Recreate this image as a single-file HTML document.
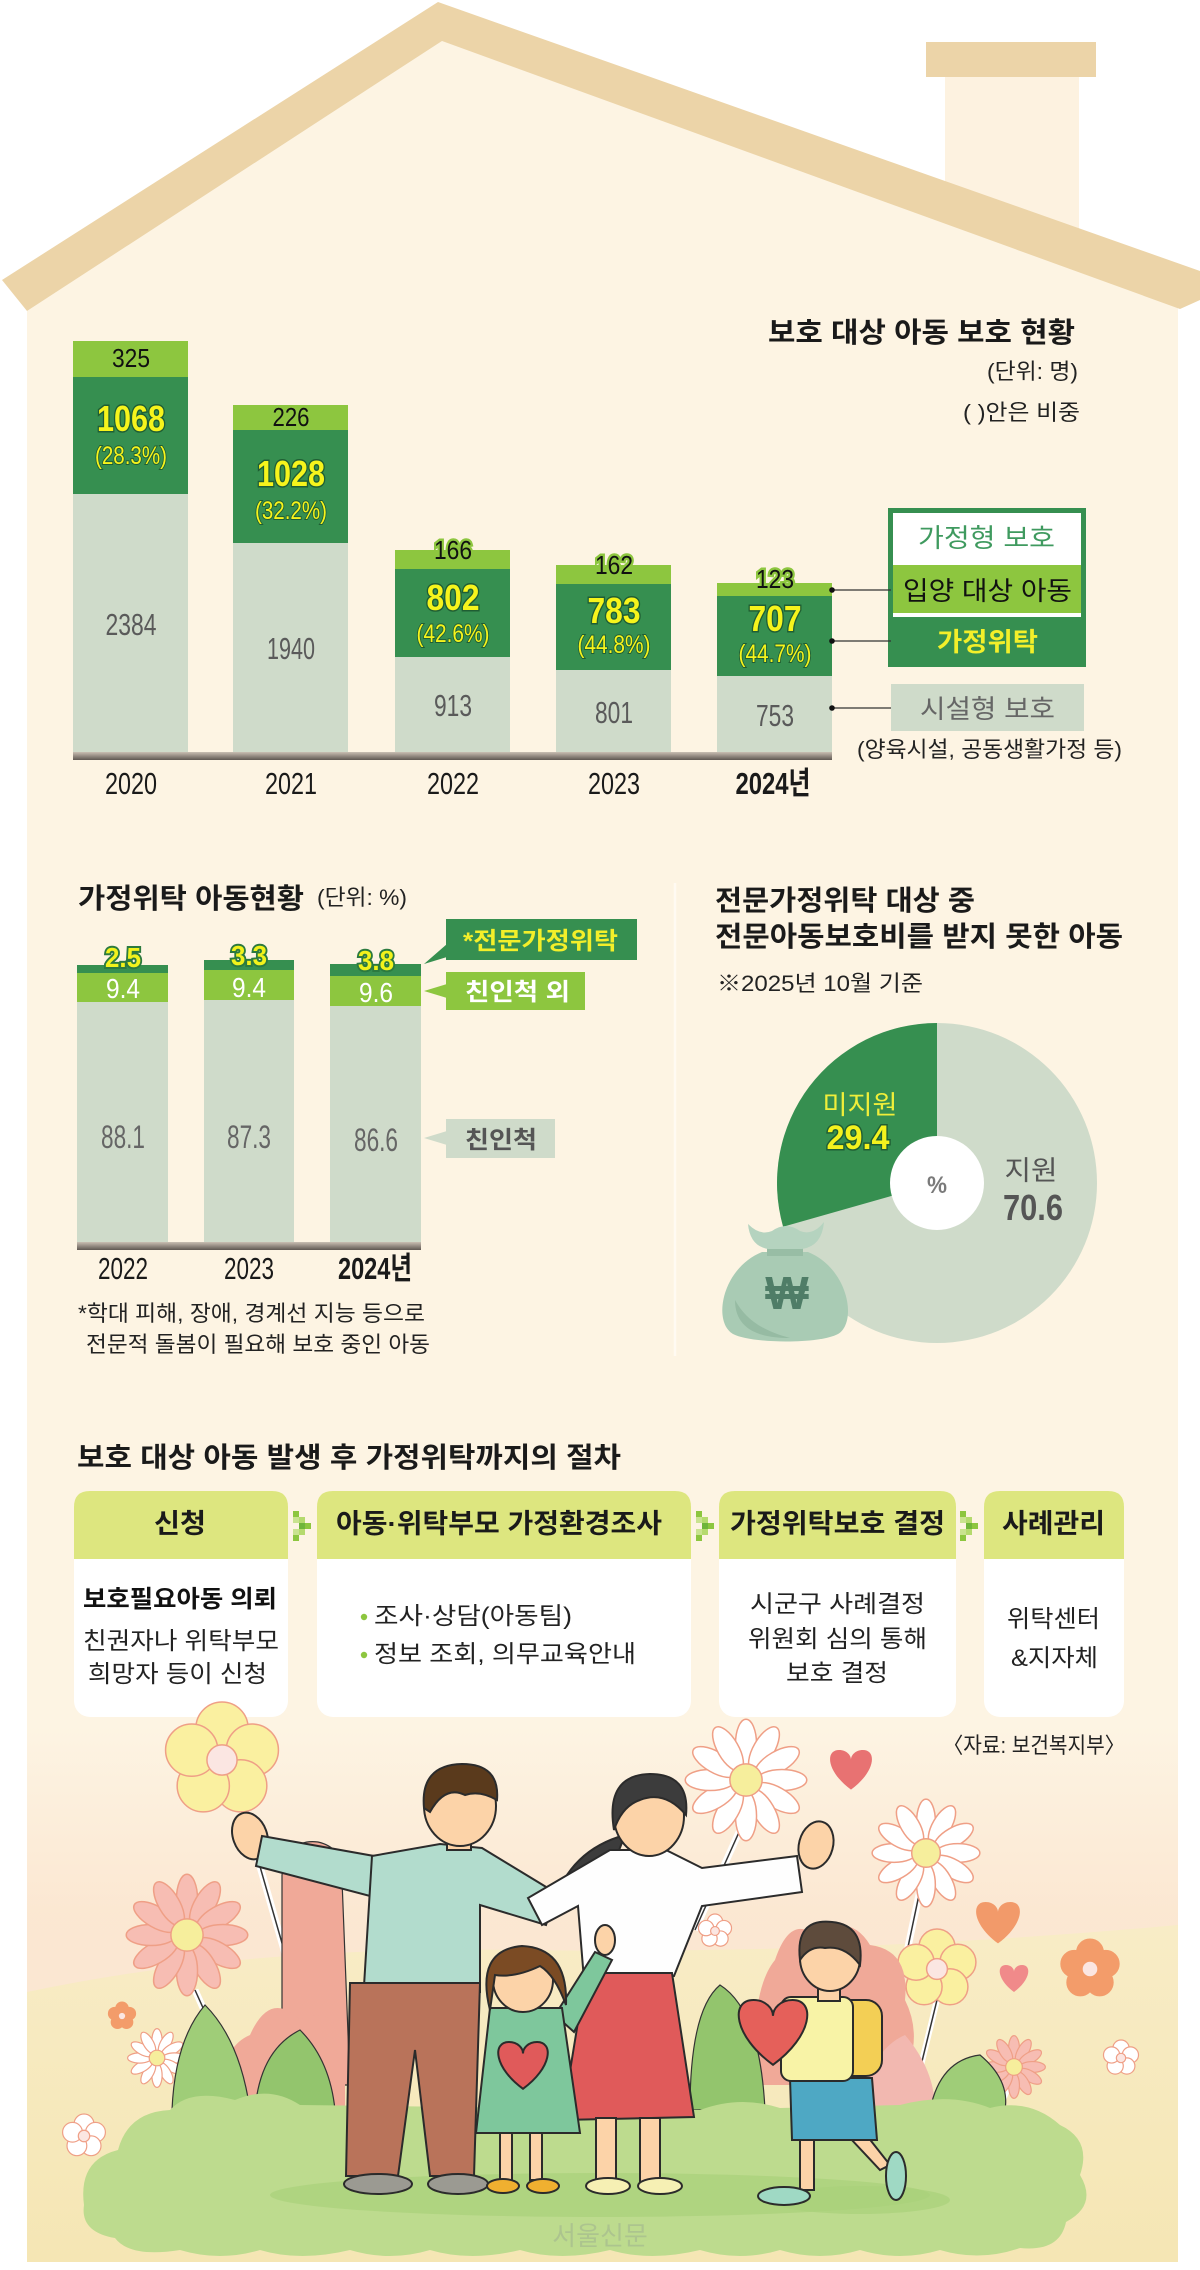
<!DOCTYPE html>
<html><head><meta charset="utf-8"><style>html,body{margin:0;padding:0;background:#fff}svg{display:block}</style></head><body>
<svg width="1200" height="2270" viewBox="0 0 1200 2270" xmlns="http://www.w3.org/2000/svg" font-family="'Liberation Sans','Noto Sans CJK KR',sans-serif">
<defs>
<linearGradient id="ax" x1="0" y1="0" x2="0" y2="1"><stop offset="0" stop-color="#c9beb2"/><stop offset="1" stop-color="#5f5852"/></linearGradient>
<linearGradient id="bg" x1="0" y1="0" x2="0" y2="1"><stop offset="0" stop-color="#fdf4e3"/><stop offset="0.35" stop-color="#fbe6d0"/><stop offset="1" stop-color="#fbe3cf"/></linearGradient>
<linearGradient id="hill" x1="0" y1="0" x2="0" y2="1"><stop offset="0" stop-color="#f8ecc6"/><stop offset="1" stop-color="#f5e6b4"/></linearGradient>
<g id="f5"><circle cx="0" cy="-0.55" r="0.45" vector-effect="non-scaling-stroke"/><circle cx="0.523" cy="-0.17" r="0.45" vector-effect="non-scaling-stroke"/><circle cx="0.323" cy="0.445" r="0.45" vector-effect="non-scaling-stroke"/><circle cx="-0.323" cy="0.445" r="0.45" vector-effect="non-scaling-stroke"/><circle cx="-0.523" cy="-0.17" r="0.45" vector-effect="non-scaling-stroke"/><circle r="0.26" fill="#fbe6e2" vector-effect="non-scaling-stroke"/></g>
<g id="dz"><ellipse cy="-0.58" rx="0.17" ry="0.4" vector-effect="non-scaling-stroke"/><ellipse cy="-0.58" rx="0.17" ry="0.4" transform="rotate(30)" vector-effect="non-scaling-stroke"/><ellipse cy="-0.58" rx="0.17" ry="0.4" transform="rotate(60)" vector-effect="non-scaling-stroke"/><ellipse cy="-0.58" rx="0.17" ry="0.4" transform="rotate(90)" vector-effect="non-scaling-stroke"/><ellipse cy="-0.58" rx="0.17" ry="0.4" transform="rotate(120)" vector-effect="non-scaling-stroke"/><ellipse cy="-0.58" rx="0.17" ry="0.4" transform="rotate(150)" vector-effect="non-scaling-stroke"/><ellipse cy="-0.58" rx="0.17" ry="0.4" transform="rotate(180)" vector-effect="non-scaling-stroke"/><ellipse cy="-0.58" rx="0.17" ry="0.4" transform="rotate(210)" vector-effect="non-scaling-stroke"/><ellipse cy="-0.58" rx="0.17" ry="0.4" transform="rotate(240)" vector-effect="non-scaling-stroke"/><ellipse cy="-0.58" rx="0.17" ry="0.4" transform="rotate(270)" vector-effect="non-scaling-stroke"/><ellipse cy="-0.58" rx="0.17" ry="0.4" transform="rotate(300)" vector-effect="non-scaling-stroke"/><ellipse cy="-0.58" rx="0.17" ry="0.4" transform="rotate(330)" vector-effect="non-scaling-stroke"/><circle r="0.26" fill="#f6ee9c" vector-effect="non-scaling-stroke"/></g>
<path id="hrt" vector-effect="non-scaling-stroke" d="M0 0.4 C -0.55 0 -0.6 -0.5 -0.27 -0.5 C -0.1 -0.5 0 -0.38 0 -0.28 C 0 -0.38 0.1 -0.5 0.27 -0.5 C 0.6 -0.5 0.55 0 0 0.4 Z"/>
</defs>

<!-- house -->
<rect x="945" y="70" width="134" height="230" fill="#fdf2e0"/>
<rect x="926" y="42" width="170" height="35" fill="#ecd4a8"/>
<polygon points="27,311 442,41 1178,307 1178,2262 27,2262" fill="#fdf4e3"/>
<polygon points="2,280 438,2 1200,271 1200,300 1180,309 442,41 27,311" fill="#ecd4a8"/>

<!-- chart 1 title -->
<text x="768" y="342" font-size="28" font-weight="bold" fill="#1a1a1a" textLength="307" lengthAdjust="spacingAndGlyphs">보호 대상 아동 보호 현황</text>
<text x="987" y="379" font-size="22" fill="#222" textLength="91" lengthAdjust="spacingAndGlyphs">(단위: 명)</text>
<text x="963" y="420" font-size="22" fill="#222" textLength="117" lengthAdjust="spacingAndGlyphs">(  )안은 비중</text>

<!-- chart 1 bars -->
<g>
<rect x="73" y="341" width="115" height="36" fill="#8dc63f"/><rect x="73" y="377" width="115" height="117" fill="#368f50"/><rect x="73" y="494" width="115" height="263" fill="#cfdbca"/>
<rect x="233" y="405" width="115" height="25" fill="#8dc63f"/><rect x="233" y="430" width="115" height="113" fill="#368f50"/><rect x="233" y="543" width="115" height="214" fill="#cfdbca"/>
<rect x="395" y="550" width="115" height="19" fill="#8dc63f"/><rect x="395" y="569" width="115" height="88" fill="#368f50"/><rect x="395" y="657" width="115" height="100" fill="#cfdbca"/>
<rect x="556" y="565" width="115" height="19" fill="#8dc63f"/><rect x="556" y="584" width="115" height="86" fill="#368f50"/><rect x="556" y="670" width="115" height="87" fill="#cfdbca"/>
<rect x="717" y="583" width="115" height="13" fill="#8dc63f"/><rect x="717" y="596" width="115" height="80" fill="#368f50"/><rect x="717" y="676" width="115" height="81" fill="#cfdbca"/>
<rect x="73" y="752" width="759" height="8" fill="url(#ax)"/>
</g>
<g text-anchor="middle">
<text x="131" y="367" font-size="26" fill="#111" textLength="38" lengthAdjust="spacingAndGlyphs">325</text>
<text x="131" y="431" font-size="36" font-weight="bold" fill="#f6f41c" stroke="#1f5e33" stroke-width="3" paint-order="stroke" textLength="68" lengthAdjust="spacingAndGlyphs">1068</text>
<text x="131" y="464" font-size="25" fill="#f6f41c" stroke="#1f5e33" stroke-width="2" paint-order="stroke" textLength="72" lengthAdjust="spacingAndGlyphs">(28.3%)</text>
<text x="131" y="635" font-size="31" fill="#5a5a5a" textLength="51" lengthAdjust="spacingAndGlyphs">2384</text>

<text x="291" y="426" font-size="26" fill="#111" stroke="#8dc63f" stroke-width="5" paint-order="stroke" textLength="37" lengthAdjust="spacingAndGlyphs">226</text>
<text x="291" y="486" font-size="36" font-weight="bold" fill="#f6f41c" stroke="#1f5e33" stroke-width="3" paint-order="stroke" textLength="68" lengthAdjust="spacingAndGlyphs">1028</text>
<text x="291" y="519" font-size="25" fill="#f6f41c" stroke="#1f5e33" stroke-width="2" paint-order="stroke" textLength="72" lengthAdjust="spacingAndGlyphs">(32.2%)</text>
<text x="291" y="659" font-size="31" fill="#5a5a5a" textLength="48" lengthAdjust="spacingAndGlyphs">1940</text>

<text x="453" y="559" font-size="26" fill="#111" stroke="#8dc63f" stroke-width="5" paint-order="stroke" textLength="38" lengthAdjust="spacingAndGlyphs">166</text>
<text x="453" y="610" font-size="36" font-weight="bold" fill="#f6f41c" stroke="#1f5e33" stroke-width="3" paint-order="stroke" textLength="53" lengthAdjust="spacingAndGlyphs">802</text>
<text x="453" y="642" font-size="25" fill="#f6f41c" stroke="#1f5e33" stroke-width="2" paint-order="stroke" textLength="73" lengthAdjust="spacingAndGlyphs">(42.6%)</text>
<text x="453" y="716" font-size="31" fill="#5a5a5a" textLength="38" lengthAdjust="spacingAndGlyphs">913</text>

<text x="614" y="574" font-size="26" fill="#111" stroke="#8dc63f" stroke-width="5" paint-order="stroke" textLength="38" lengthAdjust="spacingAndGlyphs">162</text>
<text x="614" y="623" font-size="36" font-weight="bold" fill="#f6f41c" stroke="#1f5e33" stroke-width="3" paint-order="stroke" textLength="53" lengthAdjust="spacingAndGlyphs">783</text>
<text x="614" y="653" font-size="25" fill="#f6f41c" stroke="#1f5e33" stroke-width="2" paint-order="stroke" textLength="73" lengthAdjust="spacingAndGlyphs">(44.8%)</text>
<text x="614" y="723" font-size="31" fill="#5a5a5a" textLength="38" lengthAdjust="spacingAndGlyphs">801</text>

<text x="775" y="588" font-size="26" fill="#111" stroke="#8dc63f" stroke-width="5" paint-order="stroke" textLength="38" lengthAdjust="spacingAndGlyphs">123</text>
<text x="775" y="631" font-size="36" font-weight="bold" fill="#f6f41c" stroke="#1f5e33" stroke-width="3" paint-order="stroke" textLength="53" lengthAdjust="spacingAndGlyphs">707</text>
<text x="775" y="662" font-size="25" fill="#f6f41c" stroke="#1f5e33" stroke-width="2" paint-order="stroke" textLength="73" lengthAdjust="spacingAndGlyphs">(44.7%)</text>
<text x="775" y="726" font-size="31" fill="#5a5a5a" textLength="38" lengthAdjust="spacingAndGlyphs">753</text>

<text x="131" y="794" font-size="31" fill="#1a1a1a" textLength="52" lengthAdjust="spacingAndGlyphs">2020</text>
<text x="291" y="794" font-size="31" fill="#1a1a1a" textLength="52" lengthAdjust="spacingAndGlyphs">2021</text>
<text x="453" y="794" font-size="31" fill="#1a1a1a" textLength="52" lengthAdjust="spacingAndGlyphs">2022</text>
<text x="614" y="794" font-size="31" fill="#1a1a1a" textLength="52" lengthAdjust="spacingAndGlyphs">2023</text>
<text x="773" y="794" font-size="31" font-weight="bold" fill="#1a1a1a" textLength="75" lengthAdjust="spacingAndGlyphs">2024년</text>
</g>

<!-- chart 1 legend -->
<rect x="888" y="508" width="198" height="159" fill="#368f50"/>
<rect x="893" y="513" width="188" height="52" fill="#ffffff"/>
<rect x="893" y="565" width="188" height="48" fill="#8dc63f"/>
<rect x="893" y="613" width="188" height="4" fill="#ffffff"/>
<text x="918" y="547" font-size="26" fill="#3f9a5f" textLength="137" lengthAdjust="spacingAndGlyphs">가정형 보호</text>
<text x="903" y="600" font-size="26" fill="#111" textLength="169" lengthAdjust="spacingAndGlyphs">입양 대상 아동</text>
<text x="937" y="651" font-size="26" font-weight="bold" fill="#f3ef2a" textLength="101" lengthAdjust="spacingAndGlyphs">가정위탁</text>
<rect x="891" y="684" width="193" height="47" fill="#cfdbca"/>
<text x="920" y="718" font-size="26" fill="#666" textLength="135" lengthAdjust="spacingAndGlyphs">시설형 보호</text>
<text x="857" y="757" font-size="22" fill="#222" textLength="265" lengthAdjust="spacingAndGlyphs">(양육시설, 공동생활가정 등)</text>
<g stroke="#333" stroke-width="1.3"><line x1="832" y1="590" x2="891" y2="590"/><line x1="832" y1="641" x2="891" y2="641"/><line x1="832" y1="708" x2="891" y2="708"/></g>
<g fill="#111"><circle cx="832" cy="590" r="2.8"/><circle cx="832" cy="641" r="2.8"/><circle cx="832" cy="708" r="2.8"/></g>

<!-- chart 2 -->
<text x="78" y="908" font-size="28" font-weight="bold" fill="#1a1a1a" textLength="226" lengthAdjust="spacingAndGlyphs">가정위탁 아동현황</text>
<text x="317" y="905" font-size="22" fill="#222" textLength="90" lengthAdjust="spacingAndGlyphs">(단위: %)</text>
<rect x="77" y="965" width="91" height="8" fill="#368f50"/><rect x="77" y="973" width="91" height="29" fill="#8dc63f"/><rect x="77" y="1002" width="91" height="245" fill="#cfdbca"/>
<rect x="204" y="960" width="90" height="10" fill="#368f50"/><rect x="204" y="970" width="90" height="30" fill="#8dc63f"/><rect x="204" y="1000" width="90" height="247" fill="#cfdbca"/>
<rect x="330" y="964" width="91" height="12" fill="#368f50"/><rect x="330" y="976" width="91" height="30" fill="#8dc63f"/><rect x="330" y="1006" width="91" height="241" fill="#cfdbca"/>
<rect x="77" y="1242" width="344" height="8" fill="url(#ax)"/>
<g text-anchor="middle">
<text x="123" y="967" font-size="28" font-weight="bold" fill="#f2f21c" stroke="#2c7a3f" stroke-width="4" paint-order="stroke" textLength="36" lengthAdjust="spacingAndGlyphs">2.5</text>
<text x="249" y="965" font-size="28" font-weight="bold" fill="#f2f21c" stroke="#2c7a3f" stroke-width="4" paint-order="stroke" textLength="36" lengthAdjust="spacingAndGlyphs">3.3</text>
<text x="376" y="970" font-size="28" font-weight="bold" fill="#f2f21c" stroke="#2c7a3f" stroke-width="4" paint-order="stroke" textLength="36" lengthAdjust="spacingAndGlyphs">3.8</text>
<text x="123" y="998" font-size="28" fill="#fff" textLength="34" lengthAdjust="spacingAndGlyphs">9.4</text>
<text x="249" y="997" font-size="28" fill="#fff" textLength="34" lengthAdjust="spacingAndGlyphs">9.4</text>
<text x="376" y="1002" font-size="28" fill="#fff" textLength="34" lengthAdjust="spacingAndGlyphs">9.6</text>
<text x="123" y="1148" font-size="32" fill="#666" textLength="44" lengthAdjust="spacingAndGlyphs">88.1</text>
<text x="249" y="1148" font-size="32" fill="#666" textLength="44" lengthAdjust="spacingAndGlyphs">87.3</text>
<text x="376" y="1151" font-size="32" fill="#666" textLength="44" lengthAdjust="spacingAndGlyphs">86.6</text>
<text x="123" y="1279" font-size="31" fill="#1a1a1a" textLength="50" lengthAdjust="spacingAndGlyphs">2022</text>
<text x="249" y="1279" font-size="31" fill="#1a1a1a" textLength="50" lengthAdjust="spacingAndGlyphs">2023</text>
<text x="375" y="1279" font-size="31" font-weight="bold" fill="#1a1a1a" textLength="74" lengthAdjust="spacingAndGlyphs">2024년</text>
</g>
<polygon points="424,964 447,944 447,957" fill="#368f50"/>
<rect x="446" y="919" width="191" height="41" fill="#368f50"/>
<text x="463" y="949" font-size="24" font-weight="bold" fill="#f3ef2a" textLength="155" lengthAdjust="spacingAndGlyphs">*전문가정위탁</text>
<polygon points="424,991 447,984 447,998" fill="#8dc63f"/>
<rect x="446" y="972" width="139" height="38" fill="#8dc63f"/>
<text x="465" y="1000" font-size="24" font-weight="bold" fill="#fff" textLength="105" lengthAdjust="spacingAndGlyphs">친인척 외</text>
<polygon points="424,1138 447,1131 447,1145" fill="#cfdbca"/>
<rect x="446" y="1119" width="109" height="39" fill="#cfdbca"/>
<text x="465" y="1148" font-size="24" font-weight="bold" fill="#555" textLength="72" lengthAdjust="spacingAndGlyphs">친인척</text>
<text x="78" y="1321" font-size="22" fill="#222" textLength="347" lengthAdjust="spacingAndGlyphs">*학대 피해, 장애, 경계선 지능 등으로</text>
<text x="86" y="1352" font-size="22" fill="#222" textLength="344" lengthAdjust="spacingAndGlyphs">전문적 돌봄이 필요해 보호 중인 아동</text>

<line x1="675" y1="883" x2="675" y2="1356" stroke="#fffaf2" stroke-width="2.5"/>

<!-- pie -->
<text x="715" y="910" font-size="28" font-weight="bold" fill="#1a1a1a" textLength="260" lengthAdjust="spacingAndGlyphs">전문가정위탁 대상 중</text>
<text x="715" y="946" font-size="28" font-weight="bold" fill="#1a1a1a" textLength="408" lengthAdjust="spacingAndGlyphs">전문아동보호비를 받지 못한 아동</text>
<text x="717" y="991" font-size="22" fill="#222" textLength="206" lengthAdjust="spacingAndGlyphs">※2025년 10월 기준</text>
<circle cx="937" cy="1183" r="160" fill="#cfdbca"/>
<path d="M937 1183 L937 1023 A160 160 0 0 0 783.1 1226.7 Z" fill="#368f50"/>
<circle cx="937" cy="1183" r="47" fill="#fff"/>
<text x="860" y="1114" text-anchor="middle" font-size="26" fill="#f0ee3a" textLength="75" lengthAdjust="spacingAndGlyphs">미지원</text>
<text x="858" y="1149" text-anchor="middle" font-size="34" font-weight="bold" fill="#f4f21e" stroke="#1f5e33" stroke-width="3" paint-order="stroke" textLength="63" lengthAdjust="spacingAndGlyphs">29.4</text>
<text x="937" y="1193" text-anchor="middle" font-size="24" font-weight="bold" fill="#7a7a7a" textLength="20" lengthAdjust="spacingAndGlyphs">%</text>
<text x="1031" y="1180" text-anchor="middle" font-size="27" fill="#555" textLength="53" lengthAdjust="spacingAndGlyphs">지원</text>
<text x="1033" y="1220" text-anchor="middle" font-size="36" font-weight="bold" fill="#555" textLength="60" lengthAdjust="spacingAndGlyphs">70.6</text>
<!-- money bag -->
<path d="M762 1252 C722 1268 712 1322 733 1334 C752 1344 820 1344 838 1334 C858 1322 848 1268 808 1252 Z" fill="#a9cbb4"/>
<path d="M735 1300 C735 1330 760 1338 790 1338 C760 1330 745 1318 735 1300 Z" fill="#96bba3"/>
<rect x="767" y="1243" width="36" height="13" fill="#98bda5"/>
<path d="M748 1224 Q760 1236 772 1231 Q786 1221 800 1231 Q813 1236 824 1222 Q822 1246 802 1249 L768 1249 Q750 1246 748 1224 Z" fill="#b5d3bf"/>
<text x="787" y="1309" text-anchor="middle" font-size="46" font-weight="bold" fill="#4f7d67">₩</text>

<!-- process -->
<text x="77" y="1467" font-size="28" font-weight="bold" fill="#1a1a1a" textLength="544" lengthAdjust="spacingAndGlyphs">보호 대상 아동 발생 후 가정위탁까지의 절차</text>
<g>
<rect x="74" y="1491" width="214" height="226" rx="16" fill="#fff"/><path d="M74 1559 L74 1507 Q74 1491 90 1491 L272 1491 Q288 1491 288 1507 L288 1559 Z" fill="#dde67f"/>
<rect x="317" y="1491" width="374" height="226" rx="16" fill="#fff"/><path d="M317 1559 L317 1507 Q317 1491 333 1491 L675 1491 Q691 1491 691 1507 L691 1559 Z" fill="#dde67f"/>
<rect x="719" y="1491" width="237" height="226" rx="16" fill="#fff"/><path d="M719 1559 L719 1507 Q719 1491 735 1491 L940 1491 Q956 1491 956 1507 L956 1559 Z" fill="#dde67f"/>
<rect x="984" y="1491" width="140" height="226" rx="16" fill="#fff"/><path d="M984 1559 L984 1507 Q984 1491 1000 1491 L1108 1491 Q1124 1491 1124 1507 L1124 1559 Z" fill="#dde67f"/>
</g>
<g id="chev"><rect x="293" y="1511" width="6" height="6" fill="#8dc63f"/><rect x="299" y="1517" width="6" height="6" fill="#b5da6e"/><rect x="305" y="1523" width="6" height="6" fill="#8dc63f"/><rect x="299" y="1529" width="6" height="6" fill="#b5da6e"/><rect x="293" y="1535" width="6" height="6" fill="#8dc63f"/><rect x="293" y="1517" width="6" height="6" fill="#c9e38f"/><rect x="299" y="1523" width="6" height="6" fill="#6fb53a"/><rect x="293" y="1529" width="6" height="6" fill="#c9e38f"/></g>
<use href="#chev" transform="translate(403,0)"/>
<use href="#chev" transform="translate(667,0)"/>
<g font-weight="bold" fill="#1a1a1a" font-size="27">
<text x="154" y="1533" textLength="52" lengthAdjust="spacingAndGlyphs">신청</text>
<text x="336" y="1533" textLength="326" lengthAdjust="spacingAndGlyphs">아동·위탁부모 가정환경조사</text>
<text x="730" y="1533" textLength="215" lengthAdjust="spacingAndGlyphs">가정위탁보호 결정</text>
<text x="1002" y="1533" textLength="103" lengthAdjust="spacingAndGlyphs">사례관리</text>
</g>
<g font-size="24" fill="#222">
<text x="83" y="1607" font-weight="bold" fill="#111" textLength="194" lengthAdjust="spacingAndGlyphs">보호필요아동 의뢰</text>
<text x="83" y="1649" textLength="196" lengthAdjust="spacingAndGlyphs">친권자나 위탁부모</text>
<text x="88" y="1682" textLength="179" lengthAdjust="spacingAndGlyphs">희망자 등이 신청</text>
<text x="374" y="1624" textLength="198" lengthAdjust="spacingAndGlyphs">조사·상담(아동팀)</text>
<text x="374" y="1662" textLength="262" lengthAdjust="spacingAndGlyphs">정보 조회, 의무교육안내</text>
<text x="750" y="1612" textLength="175" lengthAdjust="spacingAndGlyphs">시군구 사례결정</text>
<text x="748" y="1647" textLength="179" lengthAdjust="spacingAndGlyphs">위원회 심의 통해</text>
<text x="786" y="1681" textLength="102" lengthAdjust="spacingAndGlyphs">보호 결정</text>
<text x="1007" y="1627" textLength="93" lengthAdjust="spacingAndGlyphs">위탁센터</text>
<text x="1011" y="1666" textLength="87" lengthAdjust="spacingAndGlyphs">&amp;지자체</text>
</g>
<circle cx="364" cy="1617" r="3.2" fill="#8dc63f"/><circle cx="364" cy="1655" r="3.2" fill="#8dc63f"/>

<!-- illustration background -->
<path d="M27 1725 L1178 1725 L1178 2262 L27 2262 Z" fill="url(#bg)" opacity="0.9"/>
<path d="M27 1992 Q250 1945 520 1950 Q850 1955 1178 1925 L1178 2262 L27 2262 Z" fill="url(#hill)"/>
<text x="1125" y="1753" text-anchor="end" font-size="22" fill="#222" textLength="182" lengthAdjust="spacingAndGlyphs">〈자료: 보건복지부〉</text>

<!-- stems -->
<g stroke="#333" stroke-width="1.5" fill="none">
<path d="M238 1790 L330 2110" stroke="#fff" stroke-width="7"/><path d="M238 1790 L330 2110"/>
<path d="M740 1830 L695 1930" stroke="#fff" stroke-width="7"/><path d="M740 1830 L695 1930"/>
<path d="M920 1890 L880 2080" stroke="#fff" stroke-width="7"/><path d="M920 1890 L880 2080"/>
<path d="M195 1990 L240 2090" stroke="#fff" stroke-width="7"/><path d="M195 1990 L240 2090"/>
<path d="M937 2000 L915 2090" stroke="#fff" stroke-width="6"/><path d="M937 2000 L915 2090"/>
<path d="M1010 2085 L990 2130" stroke="#fff" stroke-width="5"/>
</g>
<!-- flowers -->
<use href="#f5" transform="translate(222,1760) scale(58)" fill="#faf0a0" stroke="#ef9f86" stroke-width="1.5"/>
<use href="#dz" transform="translate(746,1780) scale(62)" fill="#ffffff" stroke="#ef9f86" stroke-width="1.5"/>
<use href="#dz" transform="translate(926,1853) scale(55)" fill="#ffffff" stroke="#ef9f86" stroke-width="1.5"/>
<use href="#dz" transform="translate(187,1935) scale(62)" fill="#f7bdb3" stroke="#ef9f86" stroke-width="1.5"/>
<use href="#f5" transform="translate(937,1969) scale(40)" fill="#faf0a0" stroke="#ef9f86" stroke-width="1.5"/>
<use href="#f5" transform="translate(1090,1969) scale(30)" fill="#f39c6a" stroke="#f39c6a" stroke-width="1"/>
<use href="#f5" transform="translate(84,2136) scale(22)" fill="#ffffff" stroke="#ef9f86" stroke-width="1.2"/>
<use href="#f5" transform="translate(715,1931) scale(17)" fill="#ffffff" stroke="#ef9f86" stroke-width="1.2"/>
<use href="#f5" transform="translate(1121,2058) scale(18)" fill="#ffffff" stroke="#ef9f86" stroke-width="1.2"/>
<use href="#f5" transform="translate(122,2016) scale(14)" fill="#f39c6a" stroke="#f39c6a" stroke-width="1"/>
<use href="#dz" transform="translate(1014,2067) scale(32)" fill="#f7bdb3" stroke="#ef9f86" stroke-width="1.2"/>
<use href="#dz" transform="translate(157,2058) scale(30)" fill="#ffffff" stroke="#ef9f86" stroke-width="1.2"/>
<use href="#hrt" transform="translate(851,1772) scale(44)" fill="#e87272"/>
<use href="#hrt" transform="translate(998,1925) scale(46)" fill="#f29a6a"/>
<use href="#hrt" transform="translate(1014,1980) scale(30)" fill="#f08a8a"/>

<!-- bushes behind -->
<path d="M282 2085 L282 1875 Q288 1838 318 1842 Q345 1848 342 1880 L350 2085 Z" fill="#f0a998" stroke="#333" stroke-width="1.2"/>
<path d="M228 2110 Q215 2050 250 2035 Q270 1990 300 2020 Q340 2000 345 2060 L345 2110 Z" fill="#f0a998"/>
<path d="M755 2085 Q750 1990 775 1960 Q790 1915 815 1935 Q850 1912 870 1945 Q910 1950 905 2000 Q925 2040 900 2085 Z" fill="#f0a998"/>
<path d="M172 2110 Q175 2040 205 2005 Q240 2040 250 2110 Z" fill="#9fcd78" stroke="#333" stroke-width="1.2"/>
<path d="M255 2110 Q260 2050 300 2030 Q330 2060 335 2110 Z" fill="#93c56d" stroke="#333" stroke-width="1.2"/>
<path d="M690 2110 Q690 2010 720 1985 Q760 2010 765 2110 Z" fill="#93c56d" stroke="#333" stroke-width="1.2"/>
<path d="M860 2110 Q870 2050 905 2035 Q935 2070 935 2110 Z" fill="#f2b8b0"/>
<path d="M930 2110 Q940 2060 980 2055 Q1010 2080 1005 2110 Z" fill="#9fcd78" stroke="#333" stroke-width="1.2"/>
<!-- ground -->
<path d="M84 2205 Q78 2160 118 2150 Q128 2112 170 2110 Q190 2088 235 2100 Q270 2085 300 2105 L700 2110 Q740 2095 780 2108 L900 2105 Q950 2092 990 2108 Q1030 2098 1060 2125 Q1092 2140 1080 2175 Q1098 2205 1066 2222 Q1060 2252 1020 2248 Q980 2262 940 2250 Q900 2262 860 2250 Q820 2262 780 2250 Q740 2262 700 2250 Q650 2262 610 2250 Q560 2262 520 2250 Q470 2262 430 2250 Q390 2262 350 2250 Q300 2262 260 2250 Q220 2262 180 2250 Q130 2258 115 2238 Q80 2232 84 2205 Z" fill="#bddb8e"/>
<ellipse cx="600" cy="2195" rx="330" ry="22" fill="#a9d27a" opacity="0.7"/>
<ellipse cx="860" cy="2200" rx="90" ry="14" fill="#a9d27a" opacity="0.7"/>

<!-- man -->
<g stroke="#2b2b2b" stroke-width="2">
<ellipse cx="250" cy="1836" rx="17" ry="24" transform="rotate(-20 250 1836)" fill="#fcd3a8"/>
<path d="M262 1836 L374 1856 L370 1896 L256 1866 Z" fill="#b2dccd"/>
<path d="M372 1856 L440 1844 L482 1848 L556 1893 L546 1925 L480 1905 L480 1992 L364 1986 Z" fill="#b2dccd"/>
<path d="M350 1983 L480 1983 L474 2176 L430 2176 L415 2050 L398 2176 L346 2176 Z" fill="#b9735a"/>
<ellipse cx="378" cy="2184" rx="34" ry="10" fill="#9b9a92"/>
<ellipse cx="458" cy="2184" rx="30" ry="10" fill="#9b9a92"/>
<rect x="447" y="1830" width="24" height="20" fill="#fcd3a8"/>
<ellipse cx="460" cy="1806" rx="36" ry="40" fill="#fcd3a8"/>
<path d="M424 1808 Q420 1765 462 1764 Q500 1764 497 1800 Q480 1790 465 1795 Q445 1785 430 1812 Z" fill="#5a3a1c"/>
</g>
<!-- woman -->
<g stroke="#2b2b2b" stroke-width="2">
<path d="M625 1835 Q570 1850 553 1905 Q578 1895 612 1868 Z" fill="#3c3c3c"/>
<ellipse cx="816" cy="1845" rx="17" ry="24" transform="rotate(15 816 1845)" fill="#fcd3a8"/>
<path d="M610 1850 L666 1850 L702 1868 L797 1856 L802 1892 L702 1906 L674 1976 L584 1980 L578 1906 L542 1925 L528 1898 Z" fill="#fefefe"/>
<path d="M586 1973 L672 1973 L694 2117 L562 2120 Z" fill="#e05a5a"/>
<rect x="596" y="2118" width="20" height="64" fill="#fcd3a8"/>
<rect x="640" y="2118" width="20" height="64" fill="#fcd3a8"/>
<ellipse cx="608" cy="2186" rx="22" ry="8" fill="#f6f0b4"/>
<ellipse cx="660" cy="2186" rx="22" ry="8" fill="#f6f0b4"/>
<ellipse cx="649" cy="1816" rx="35" ry="40" fill="#fcd3a8"/>
<path d="M614 1830 Q605 1775 650 1774 Q690 1774 686 1815 Q665 1790 640 1800 Q622 1806 614 1830 Z" fill="#3c3c3c"/>
</g>
<!-- girl -->
<g stroke="#2b2b2b" stroke-width="2">
<rect x="500" y="2130" width="12" height="50" fill="#fcd3a8"/>
<rect x="530" y="2130" width="12" height="50" fill="#fcd3a8"/>
<ellipse cx="503" cy="2186" rx="16" ry="7" fill="#f0b030"/>
<ellipse cx="543" cy="2186" rx="16" ry="7" fill="#f0b030"/>
<path d="M555 2015 L595 1952 L612 1960 L574 2032 Z" fill="#7ec79c"/>
<ellipse cx="605" cy="1940" rx="10" ry="15" fill="#fcd3a8"/>
<path d="M490 2008 L562 2008 L580 2133 L476 2133 Z" fill="#7ec79c"/>
<ellipse cx="523" cy="1980" rx="30" ry="32" fill="#fcd3a8"/>
<path d="M490 2010 Q475 1950 522 1946 Q568 1948 566 2005 Q555 1975 540 1966 Q515 1978 495 1975 Z" fill="#7b4b24"/>
</g>
<use href="#hrt" transform="translate(523,2068) scale(52)" fill="#e05a5a" stroke="#2b2b2b" stroke-width="2"/>
<!-- boy -->
<g stroke="#2b2b2b" stroke-width="2">
<rect x="800" y="2138" width="14" height="52" fill="#fcd3a8"/>
<path d="M850 2138 L880 2170 L890 2165 L864 2132 Z" fill="#fcd3a8"/>
<ellipse cx="784" cy="2196" rx="26" ry="9" fill="#9fd9c4"/>
<ellipse cx="896" cy="2176" rx="10" ry="24" fill="#9fd9c4"/>
<path d="M790 2078 L872 2078 L877 2140 L792 2140 Z" fill="#4ea8c4"/>
<rect x="822" y="2000" width="60" height="76" rx="16" fill="#f3cf55"/>
<rect x="781" y="1997" width="72" height="84" rx="10" fill="#f8f3a6"/>
<rect x="818" y="1985" width="22" height="16" fill="#fcd3a8"/>
<ellipse cx="830" cy="1958" rx="30" ry="33" fill="#fcd3a8"/>
<path d="M800 1960 Q795 1918 832 1922 Q865 1925 860 1965 Q845 1945 825 1948 Q810 1945 800 1960 Z" fill="#5e4b3c"/>
</g>
<use href="#hrt" transform="translate(773,2036) scale(72)" fill="#e5605a" stroke="#2b2b2b" stroke-width="2"/>

<text x="600" y="2245" text-anchor="middle" font-size="26" fill="#a9bf8e" opacity="0.8">서울신문</text>
</svg>
</body></html>
